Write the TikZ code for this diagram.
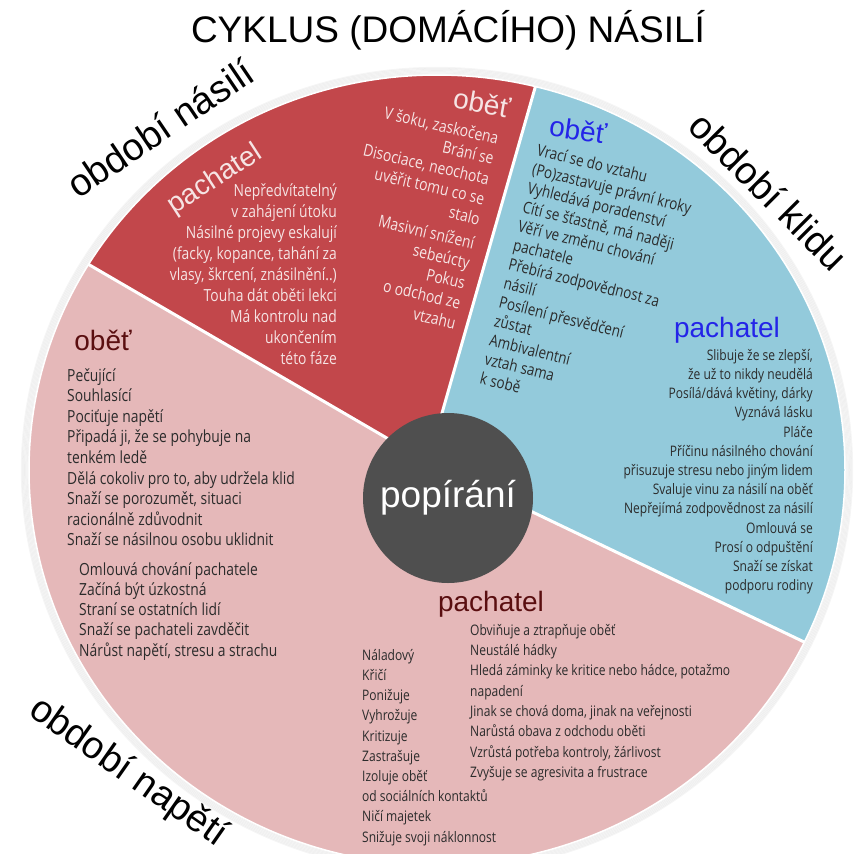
\documentclass[tikz,border=0pt]{standalone}
\usepackage{fontspec}
\setmainfont{Liberation Sans}
\newfontfamily\bodyfont[FakeStretch=0.83]{Open Sans}
\usetikzlibrary{positioning}

\definecolor{violred}{HTML}{C2474B}
\definecolor{calmblue}{HTML}{93CADB}
\definecolor{tensepink}{HTML}{E5B8B9}
\definecolor{denygrey}{HTML}{4F4F4F}
\definecolor{headred}{HTML}{5A0E10}
\definecolor{headblue}{HTML}{2424E8}
\definecolor{lighttext}{HTML}{F6E4E4}
\definecolor{darktext}{HTML}{2B2B2B}

\begin{document}
\begin{tikzpicture}[
      x=1pt, y=-1pt,
      every node/.style={
        inner sep=0pt
      },
      header/.style={font=\fontsize{28}{30}\selectfont},
      items/.style={font=\bodyfont\fontsize{14.5}{20.5}\selectfont, text=darktext},
      bigitems/.style={items, font=\bodyfont\fontsize{16.7}{20.6}\selectfont},
      phasename/.style={font=\fontsize{38}{40}\selectfont}
    ]
    \useasboundingbox (0,0) rectangle (860,854);

    % Pie
    \coordinate (c) at (437,470);
    \coordinate (o) at (428,462);
    \coordinate (rb) at (642,-286);
    \coordinate (rp) at (-242,72);
    \coordinate (pb) at (1172,818);

    \foreach \k in {1,...,7}
      \draw[black, opacity=0.04, line width=1.5pt] (c) ellipse[x radius=407pt+\k*1.2pt, y radius=394pt+\k*1.2pt];
    \begin{scope}
      \clip (c) ellipse[x radius=408pt, y radius=395pt];
      \fill[violred] (o) -- (rp) -- (-242,-286) -- (rb) -- cycle;
      \fill[calmblue] (o) -- (rb) -- (1172,-286) -- (pb) -- cycle;
      \fill[tensepink] (o) -- (pb) -- (1172,1300) -- (-242,1300) -- (rp) -- cycle;
      \draw[white, line width=3pt] (o) -- (rb) (o) -- (rp) (o) -- (pb);
    \end{scope}
    \draw[white, line width=1.5pt] (c) ellipse[x radius=408pt, y radius=395pt];

    % Title and phases
    \node (title) [font=\fontsize{37}{40}\selectfont] at (448,30) {CYKLUS (DOMÁCÍHO) NÁSILÍ};
    \node (pviol) [phasename, rotate=34] at (160,128) {období násilí};
    \node (pcalm) [phasename, rotate=-45] at (769,191) {období klidu};
    \node (ptens) [phasename, rotate=-35] at (128,773) {období napětí};

    % Violence
    \node (vpach) [header, text=lighttext, rotate=33] at (215,180) {pachatel};
    \node (vpachl) [bigitems, font=\bodyfont\fontsize{16.7}{20.9}\selectfont, text=lighttext, align=right, anchor=north east] at (337,184) {Nepředvítatelný\\ v zahájení útoku\\ Násilné projevy eskalují\\ (facky, kopance, tahání za\\ vlasy, škrcení, znásilnění..)\\ Touha dát oběti lekci\\ Má kontrolu nad\\ ukončením\\ této fáze};
    \node (vobet) [header, text=lighttext, rotate=-10] at (482,103) {oběť};
    \node (vobetl) [bigitems, text=lighttext, align=right, anchor=north east, rotate=-13] at (500,132) {V šoku, zaskočena\\ Brání se\\ Disociace, neochota\\ uvěřit tomu co se\\ stalo\\[4pt] Masivní snížení\\ sebeúcty\\ Pokus\\ o odchod ze\\ vtzahu};

    % Calm
    \node (kobet) [header, text=headblue, rotate=-8] at (578,130) {oběť};
    \node (kobetl) [bigitems, font=\bodyfont\fontsize{16.2}{19.6}\selectfont, align=left, anchor=north west, rotate=-14] at (539,143) {Vrací se do vztahu\\ (Po)zastavuje právní kroky\\ Vyhledává poradenství\\ Cítí se šťastně, má naději\\ Věří ve změnu chování\\ pachatele\\ Přebírá zodpovědnost za\\ násilí\\ Posílení přesvědčení\\ zůstat\\ Ambivalentní\\ vztah sama\\ k sobě};
    \node (kpach) [header, text=headblue] at (727,330) {pachatel};
    \node (kpachl) [items, font=\bodyfont\fontsize{14.5}{19.2}\selectfont, align=right, anchor=north east] at (813,349) {Slibuje že se zlepší,\\ že už to nikdy neudělá\\ Posílá/dává květiny, dárky\\ Vyznává lásku\\ Pláče\\ Příčinu násilného chování\\ přisuzuje stresu nebo jiným lidem\\ Svaluje vinu za násilí na oběť\\ Nepřejímá zodpovědnost za násilí\\ Omlouvá se\\ Prosí o odpuštění\\ Snaží se získat\\ podporu rodiny};

    % Tension
    \node (nobet) [header, text=headred] at (103,340) {oběť};
    \node (nobetl) [bigitems, align=left, anchor=north west] at (67,368) {Pečující\\ Souhlasící\\ Pociťuje napětí\\ Připadá ji, že se pohybuje na\\ tenkém ledě\\ Dělá cokoliv pro to, aby udržela klid\\ Snaží se porozumět, situaci\\ racionálně zdůvodnit\\ Snaží se násilnou osobu uklidnit};
    \node (nobetm) [bigitems, font=\bodyfont\fontsize{16.7}{20.25}\selectfont, align=left, below=16pt of nobetl.south west, anchor=north west, xshift=12pt] {Omlouvá chování pachatele\\ Začíná být úzkostná\\ Straní se ostatních lidí\\ Snaží se pachateli zavděčit\\ Nárůst napětí, stresu a strachu};
    \node (npach) [header, text=headred] at (491,604) {pachatel};
    \node (npachl) [items, font=\bodyfont\fontsize{14.5}{20.2}\selectfont, align=left, anchor=north west] at (362,649) {Náladový\\ Křičí\\ Ponižuje\\ Vyhrožuje\\ Kritizuje\\ Zastrašuje\\ Izoluje oběť\\ od sociálních kontaktů\\ Ničí majetek\\ Snižuje svoji náklonnost};
    \node (npachr) [items, font=\bodyfont\fontsize{14.5}{20.3}\selectfont, align=left, anchor=north west] at (470,624) {Obviňuje a ztrapňuje oběť\\ Neustálé hádky\\ Hledá záminky ke kritice nebo hádce, potažmo\\ napadení\\ Jinak se chová doma, jinak na veřejnosti\\ Narůstá obava z odchodu oběti\\ Vzrůstá potřeba kontroly, žárlivost\\ Zvyšuje se agresivita a frustrace};

    % Denial
    \node (deny) [circle, fill=denygrey, minimum size=170pt, text=white, font=\fontsize{37}{40}\selectfont] at (448,498) {popírání};
  \end{tikzpicture}
\end{document}
